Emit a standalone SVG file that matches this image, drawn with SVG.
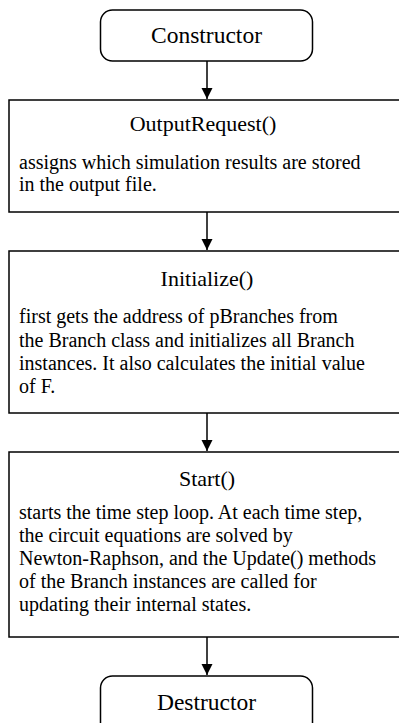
<svg xmlns="http://www.w3.org/2000/svg" width="399" height="723" viewBox="0 0 399 723">
  <defs>
    <marker id="arrow" viewBox="0 0 11 20" refX="11" refY="10" markerWidth="11" markerHeight="20" markerUnits="userSpaceOnUse" orient="auto">
      <path d="M0,4.5 L11,10 L0,15.5 Z" fill="#000"/>
    </marker>
    <style>
      .term { fill: #fff; stroke: #000; stroke-width: 1.5; }
      .box { fill: #fff; stroke: #000; stroke-width: 1.5; }
      .title { font-family: "Liberation Serif", "Times New Roman", serif; font-size: 22px; fill: #000; text-anchor: middle; }
      .term-label { font-family: "Liberation Serif", "Times New Roman", serif; font-size: 23.5px; fill: #000; text-anchor: middle; }
      .body { font-family: "Liberation Serif", "Times New Roman", serif; font-size: 20px; fill: #000; }
      .edge { stroke: #000; stroke-width: 1.5; fill: none; marker-end: url(#arrow); }
    </style>
  </defs>
  <rect width="399" height="723" fill="#fff"/>

  <g id="connectors">
    <line class="edge" x1="207" y1="61" x2="207" y2="99"/>
    <line class="edge" x1="207" y1="212" x2="207" y2="250"/>
    <line class="edge" x1="207" y1="413" x2="207" y2="451"/>
    <line class="edge" x1="207" y1="637" x2="207" y2="675"/>
  </g>

  <g id="constructor">
    <rect class="term" x="100.5" y="10" width="212" height="51" rx="12" ry="12"/>
    <text class="term-label" x="206.5" y="43">Constructor</text>
  </g>

  <g id="output-request">
    <rect class="box" x="9" y="100" width="395" height="112"/>
    <text class="title" x="203" y="131">OutputRequest()</text>
    <text class="body" x="19" y="169">assigns which simulation results are stored</text>
    <text class="body" x="19" y="191">in the output file.</text>
  </g>

  <g id="initialize">
    <rect class="box" x="9" y="251" width="395" height="162"/>
    <text class="title" x="207" y="286">Initialize()</text>
    <text class="body" x="19" y="323">first gets the address of pBranches from</text>
    <text class="body" x="19" y="346.5">the Branch class and initializes all Branch</text>
    <text class="body" x="19" y="370">instances. It also calculates the initial value</text>
    <text class="body" x="19" y="393">of F.</text>
  </g>

  <g id="start">
    <rect class="box" x="9" y="452" width="395" height="185"/>
    <text class="title" x="207" y="486">Start()</text>
    <text class="body" x="19" y="519">starts the time step loop. At each time step,</text>
    <text class="body" x="19" y="542">the circuit equations are solved by</text>
    <text class="body" x="19" y="565">Newton-Raphson, and the Update() methods</text>
    <text class="body" x="19" y="588">of the Branch instances are called for</text>
    <text class="body" x="19" y="611">updating their internal states.</text>
  </g>

  <g id="destructor">
    <rect class="term" x="100.5" y="676" width="212" height="60" rx="12" ry="12"/>
    <text class="term-label" x="206.5" y="710">Destructor</text>
  </g>
</svg>
